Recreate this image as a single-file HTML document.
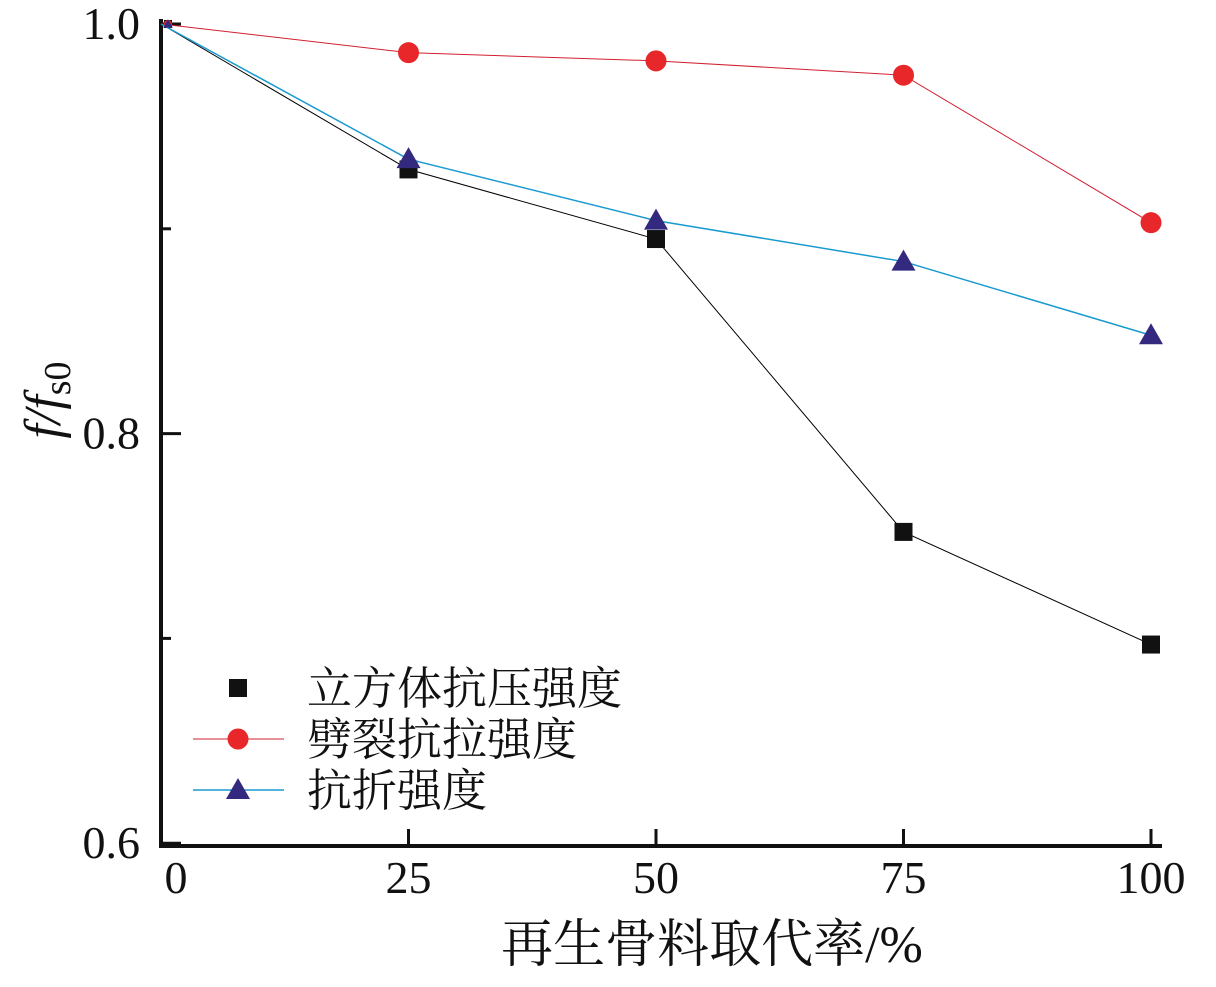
<!DOCTYPE html>
<html><head><meta charset="utf-8"><style>
body{margin:0;background:#fff}
svg text{font-family:"Liberation Serif","Noto Serif CJK SC",serif;fill:#111}
</style></head><body>
<svg width="1216" height="982" viewBox="0 0 1216 982">
<g id="axes"></g><g id="series"></g><g id="legend"></g>
</svg>
<script>
const categories=[0,25,50,75,100];
const cubeValues=[1.0,0.929,0.895,0.752,0.697];
const splitValues=[1.0,0.986,0.982,0.975,0.903];
const flexValues=[1.0,0.934,0.904,0.884,0.848];
const yTicks=[1.0,0.9,0.8,0.7,0.6];
const yTickLabels=["1.0","","0.8","","0.6"];
const seriesNames=["立方体抗压强度","劈裂抗拉强度","抗折强度"];
const NS="http://www.w3.org/2000/svg";
function x(v){return 161+v*9.9;}
function y(v){return 24+(1-v)*2048;}
function mk(tag,attrs,parent){const e=document.createElementNS(NS,tag);for(const k in attrs)e.setAttribute(k,attrs[k]);parent.appendChild(e);return e;}
const ax=document.getElementById('axes'),se=document.getElementById('series'),lg=document.getElementById('legend');
let l=mk('line',{x1:161,y1:19,x2:161,y2:848,stroke:'#111','stroke-width':4},ax);


l=mk('line',{x1:159,y1:846,x2:1162,y2:846,stroke:'#111','stroke-width':4},ax);


yTicks.forEach((v,i)=>{
  const major=yTickLabels[i]!=="";
  const t=mk('line',{x1:161,y1:y(v),x2:161+(major?20:10),y2:y(v),stroke:'#111','stroke-width':3},ax);
  
  
  if(major){const tx=mk('text',{x:140,y:y(v)+15,'text-anchor':'end','font-size':46},ax);tx.textContent=yTickLabels[i];
  
  }
});
categories.forEach(c=>{
  if(c>0){const t=mk('line',{x1:x(c),y1:846,x2:x(c),y2:829,stroke:'#111','stroke-width':3},ax);
  
  }
  const tx=mk('text',{x:c===0?176:x(c),y:893,'text-anchor':'middle','font-size':46},ax);tx.textContent=String(c);
  
  
});
let t=mk('text',{x:712,y:962,'text-anchor':'middle','font-size':52},ax);t.textContent="再生骨料取代率/%";


t=mk('text',{transform:'translate(60,400) rotate(-90)','text-anchor':'middle','font-size':52,'font-style':'italic'},ax);
t.innerHTML='f/f<tspan font-size="38" font-style="normal" dy="10">s0</tspan>';


function marker(type,cx,cy,s,fill,parent){
  if(type==='sq')return mk('rect',{x:cx-s/2,y:cy-s/2,width:s,height:s,fill:fill},parent);
  if(type==='ci')return mk('circle',{cx:cx,cy:cy,r:s/2,fill:fill},parent);
  return mk('polygon',{points:`${cx},${cy-s*0.6} ${cx-s*0.6},${cy+s*0.45} ${cx+s*0.6},${cy+s*0.45}`,fill:fill},parent);
}
const defs=[[cubeValues,'#000','#111','sq',18,1],[splitValues,'#d02030','#e8272a','ci',21,1],[flexValues,'#1a9ad0','#332a80','tr',20,1.5]];
defs.forEach((d,si)=>{
  const [vals,lc,mc,type,s,w]=d;
  const pl=mk('polyline',{points:categories.map((c,i)=>x(c)+','+y(vals[i])).join(' '),fill:'none',stroke:lc,'stroke-width':w},se);
  
  
  categories.forEach((c,i)=>{
    const m=marker(type,c===0?x(c)+7:x(c),y(vals[i]),c===0?8:s,mc,se);
    
    
  });
  const ly=688+si*51;
  if(si>0){const ll=mk('line',{x1:193,y1:ly,x2:284,y2:ly,stroke:lc,'stroke-width':w},lg);
  
  }
  const lm=marker(type,238,ly,s,mc,lg);
  
  
  const lt=mk('text',{x:307,y:ly+16,'font-size':45},lg);lt.textContent=seriesNames[si];
  
  
});
</script>
</body></html>
